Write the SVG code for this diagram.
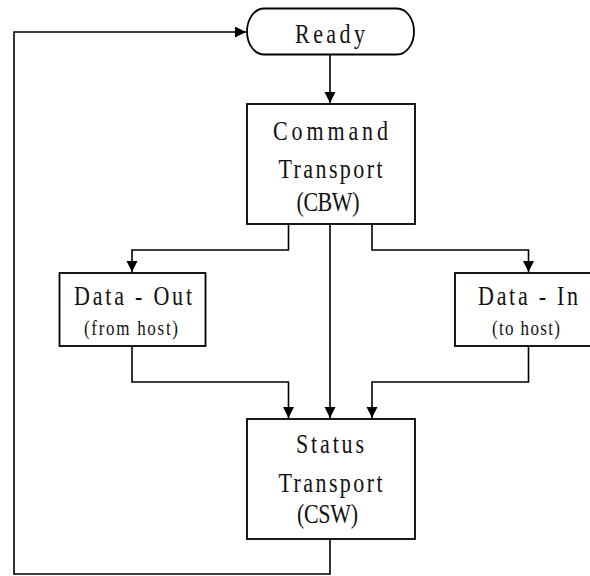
<svg xmlns="http://www.w3.org/2000/svg" width="590" height="576" viewBox="0 0 590 576">
<defs>
<marker id="arr" markerUnits="userSpaceOnUse" markerWidth="12" markerHeight="12" refX="11" refY="5.5" orient="auto">
<path d="M0,0 L11,5.5 L0,11 Z" fill="#000"/>
</marker>
<style>
.box{fill:#fff;stroke:#000;stroke-width:1.8}
.ln{fill:none;stroke:#000;stroke-width:1.6;marker-end:url(#arr)}
.ln2{fill:none;stroke:#000;stroke-width:1.6}
.big{font-family:"Liberation Serif","Times New Roman",serif;font-size:22px;fill:#111;text-anchor:middle}
.sm{font-family:"Liberation Serif","Times New Roman",serif;font-size:17px;fill:#111;text-anchor:middle}
</style>
</defs>
<rect width="590" height="576" fill="#fff"/>
<g id="connectors">
<path class="ln" d="M330,55 V103"/>
<path class="ln" d="M288.5,225 V250 H132 V272"/>
<path class="ln" d="M372,225 V250 H528.5 V272"/>
<path class="ln" d="M330,225 V418"/>
<path class="ln" d="M132,347 V382 H288.5 V418"/>
<path class="ln" d="M528.5,347 V382 H372 V418"/>
<path class="ln" d="M330,540 V574 H14 V32 H246"/>
</g>
<g id="ready">
<path class="box" d="M264,8.5 H397 A17,23 0 0 1 397,54.5 H264 A17,23 0 0 1 264,8.5 Z"/>
<g transform="translate(330,43) scale(1,1.28)"><text class="big" x="0" y="0" textLength="70" lengthAdjust="spacing">Ready</text></g>
</g>
<g id="command">
<rect class="box" x="247" y="104" width="168" height="120"/>
<g transform="translate(330.5,140) scale(1,1.28)"><text class="big" x="0" y="0" textLength="115" lengthAdjust="spacing">Command</text></g>
<g transform="translate(330.5,178) scale(1,1.28)"><text class="big" x="0" y="0" textLength="104" lengthAdjust="spacing">Transport</text></g>
<g transform="translate(328,211) scale(1,1.28)"><text class="big" x="0" y="0" textLength="63" lengthAdjust="spacing">(CBW)</text></g>
</g>
<g id="data-out">
<rect class="box" x="59.5" y="273" width="146" height="73"/>
<g transform="translate(133,305) scale(1,1.28)"><text class="big" x="0" y="0" textLength="118" lengthAdjust="spacing">Data - Out</text></g>
<g transform="translate(131,335) scale(1,1.25)"><text class="sm" x="0" y="0" textLength="94" lengthAdjust="spacing">(from host)</text></g>
</g>
<g id="data-in">
<rect class="box" x="455" y="273" width="146" height="73"/>
<g transform="translate(528,305) scale(1,1.28)"><text class="big" x="0" y="0" textLength="100" lengthAdjust="spacing">Data - In</text></g>
<g transform="translate(526,335) scale(1,1.25)"><text class="sm" x="0" y="0" textLength="68" lengthAdjust="spacing">(to host)</text></g>
</g>
<g id="status">
<rect class="box" x="247" y="419" width="168" height="120"/>
<g transform="translate(330,453) scale(1,1.28)"><text class="big" x="0" y="0" textLength="68" lengthAdjust="spacing">Status</text></g>
<g transform="translate(330.5,491.5) scale(1,1.28)"><text class="big" x="0" y="0" textLength="104" lengthAdjust="spacing">Transport</text></g>
<g transform="translate(327.5,523) scale(1,1.28)"><text class="big" x="0" y="0" textLength="61" lengthAdjust="spacing">(CSW)</text></g>
</g>
</svg>
